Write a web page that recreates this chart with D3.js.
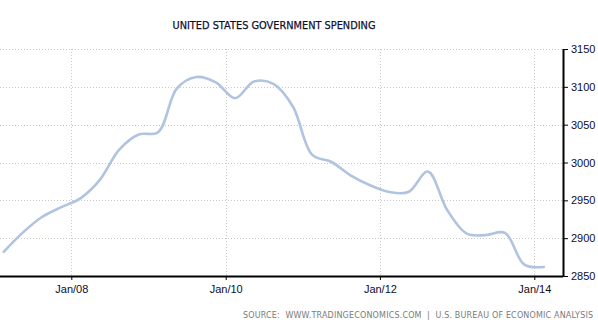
<!DOCTYPE html>
<html>
<head>
<meta charset="utf-8">
<script src="https://cdn.jsdelivr.net/npm/d3@7"></script>
<style>
  html, body { margin: 0; padding: 0; background: #fff; }
  svg { display: block; }
</style>
</head>
<body>
<svg id="chart" width="598" height="324"></svg>
<script>
// Quarterly government spending, billions of USD (Q1 2007 – Q1 2014)
const quarters = [
  "2007-Q1","2007-Q2","2007-Q3","2007-Q4",
  "2008-Q1","2008-Q2","2008-Q3","2008-Q4",
  "2009-Q1","2009-Q2","2009-Q3","2009-Q4",
  "2010-Q1","2010-Q2","2010-Q3","2010-Q4",
  "2011-Q1","2011-Q2","2011-Q3","2011-Q4",
  "2012-Q1","2012-Q2","2012-Q3","2012-Q4",
  "2013-Q1","2013-Q2","2013-Q3","2013-Q4",
  "2014-Q1"
];
const spending = [
  2882, 2907, 2928, 2941,
  2953, 2977, 3017, 3037,
  3040, 3098, 3113, 3106,
  3085, 3107, 3104, 3074,
  3010, 3001, 2983, 2970,
  2961, 2961, 2988, 2937,
  2906, 2904, 2907, 2865,
  2862
];
const yTicks = [2850, 2900, 2950, 3000, 3050, 3100, 3150];
const xTickDates = ["2008-01-01", "2010-01-01", "2012-01-01", "2014-01-01"];
const xTickLabels = ["Jan/08", "Jan/10", "Jan/12", "Jan/14"];

const titleText = "UNITED STATES GOVERNMENT SPENDING";
const sourceText = "SOURCE:  WWW.TRADINGECONOMICS.COM  |  U.S. BUREAU OF ECONOMIC ANALYSIS";

// Each quarter is placed at the middle month of the quarter
function quarterDate(q) {
  const [y, n] = q.split("-Q");
  return new Date(+y, (+n - 1) * 3 + 1, 15);
}
const data = quarters.map((q, i) => ({ date: quarterDate(q), value: spending[i] }));
const tickDates = xTickDates.map(s => new Date(s + "T00:00:00"));

const svg = d3.select("#chart");
const plot = { left: 0, right: 563, top: 49, bottom: 276 };

const x = d3.scaleTime()
  .domain([tickDates[0], tickDates[tickDates.length - 1]])
  .range([71.3, 534.3]);
const y = d3.scaleLinear()
  .domain([2850, 3150])
  .range([plot.bottom, plot.top]);

// Title
svg.append("text")
  .attr("x", 274).attr("y", 29)
  .attr("text-anchor", "middle")
  .attr("font-family", "DejaVu Sans, Verdana, sans-serif")
  .attr("font-size", 11)
  .attr("textLength", 203)
  .attr("lengthAdjust", "spacingAndGlyphs")
  .attr("fill", "#0d0d2b")
  .attr("stroke", "#0d0d2b")
  .attr("stroke-width", 0.25)
  .text(titleText);

// Dotted grid
const grid = svg.append("g")
  .attr("stroke", "#c8c8c8")
  .attr("stroke-width", 1)
  .attr("stroke-dasharray", "1,2");
grid.selectAll("line.h")
  .data(yTicks.slice(1))
  .join("line")
  .attr("class", "h")
  .attr("x1", plot.left).attr("x2", plot.right)
  .attr("y1", d => Math.round(y(d)) + 0.5)
  .attr("y2", d => Math.round(y(d)) + 0.5);
grid.selectAll("line.v")
  .data(tickDates)
  .join("line")
  .attr("class", "v")
  .attr("y1", plot.top).attr("y2", plot.bottom)
  .attr("x1", d => Math.round(x(d)) + 0.5)
  .attr("x2", d => Math.round(x(d)) + 0.5);

// Series line
const line = d3.line()
  .x(d => x(d.date))
  .y(d => y(d.value))
  .curve(d3.curveCatmullRom.alpha(0.5));
svg.append("path")
  .datum(data)
  .attr("fill", "none")
  .attr("stroke", "#b0c3e0")
  .attr("stroke-width", 2.6)
  .attr("stroke-linejoin", "round")
  .attr("stroke-linecap", "round")
  .attr("d", line);

// Bottom axis
const xAxis = d3.axisBottom(x)
  .tickValues(tickDates)
  .tickFormat((d, i) => xTickLabels[i])
  .tickSize(4)
  .tickSizeOuter(0);
const gx = svg.append("g")
  .attr("transform", `translate(0,${plot.bottom})`)
  .call(xAxis);
gx.select(".domain").attr("d", `M${plot.left},0.5H${plot.right}`).attr("stroke", "#000").attr("stroke-width", 2);
gx.selectAll(".tick line").attr("stroke", "#000");
gx.selectAll(".tick text")
  .attr("y", 9)
  .attr("font-family", "Liberation Sans, Arial, sans-serif")
  .attr("font-size", 11)
  .attr("fill", "#0d0d2b");

// Right axis
const yAxis = d3.axisRight(y)
  .tickValues(yTicks)
  .tickFormat(d3.format("d"))
  .tickSize(5)
  .tickSizeOuter(0);
const gy = svg.append("g")
  .attr("transform", `translate(${plot.right},0)`)
  .call(yAxis);
gy.select(".domain").attr("d", `M0.5,${plot.top}V${plot.bottom}`).attr("stroke", "#000").attr("stroke-width", 2);
gy.selectAll(".tick line").attr("stroke", "#000");
gy.selectAll(".tick text")
  .attr("x", 8)
  .attr("font-family", "Liberation Sans, Arial, sans-serif")
  .attr("font-size", 11)
  .attr("fill", "#0d0d2b");

// Source line
svg.append("text")
  .attr("x", 243).attr("y", 318)
  .attr("font-family", "DejaVu Sans, Verdana, sans-serif")
  .attr("font-size", 8)
  .attr("textLength", 350)
  .attr("lengthAdjust", "spacing")
  .attr("fill", "#7a7a7a")
  .style("white-space", "pre")
  .text(sourceText);
</script>
</body>
</html>
